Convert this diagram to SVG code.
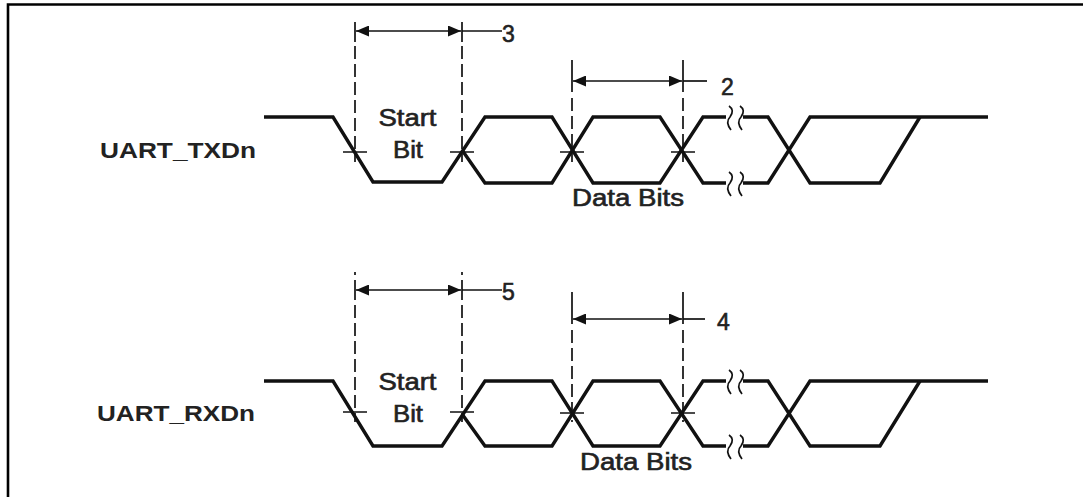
<svg xmlns="http://www.w3.org/2000/svg" width="1083" height="497" viewBox="0 0 1083 497">
<style>
.sig{fill:none;stroke:#111;stroke-width:3.4;stroke-linejoin:miter}
.dash{fill:none;stroke:#111;stroke-width:1.7;stroke-dasharray:13,5}
.thin{fill:none;stroke:#111;stroke-width:1.7}
.brk{fill:none;stroke:#111;stroke-width:1.7}
.lbl{font-family:"Liberation Sans",Arial,sans-serif;font-size:23px;fill:#222;stroke:#222;stroke-width:0.6}
.name{font-family:"Liberation Sans",Arial,sans-serif;font-size:22px;font-weight:bold;fill:#222}
</style>
<defs>
<marker id="ah" markerWidth="13" markerHeight="11" refX="13" refY="5.5" orient="auto-start-reverse" markerUnits="userSpaceOnUse">
<path d="M0,0 L13,5.5 L0,11 Z" fill="#111"/>
</marker>
<g id="brkS"><path d="M-1,-12 q6,4 1,11 q-5,5 1,13" class="brk"/></g>
</defs>
<rect x="0" y="0" width="1083" height="497" fill="#fff"/>
<path d="M8,497 V4.5 H1083" fill="none" stroke="#000" stroke-width="2.6"/>

<g id="txd">
<text class="name" x="100" y="158" textLength="156" lengthAdjust="spacingAndGlyphs">UART_TXDn</text>
<path class="sig" d="M264,117 H333 L373,182 H442 L485,117 H552 L593,183 H660 L703,117 H726 M743,117 H768 L810,183 H880 L920,117"/>
<path class="sig" d="M462,150 L485,183 H552 L593,117 H660 L703,183 H726 M743,183 H768 L810,117 H988"/>
<use href="#brkS" x="730" y="118"/>
<use href="#brkS" x="741" y="118"/>
<use href="#brkS" x="730" y="184"/>
<use href="#brkS" x="741" y="184"/>
<text class="lbl" x="407.5" y="126" text-anchor="middle" textLength="58" lengthAdjust="spacingAndGlyphs">Start</text>
<text class="lbl" x="408" y="158" text-anchor="middle" textLength="30" lengthAdjust="spacingAndGlyphs">Bit</text>
<text class="lbl" x="628" y="206" text-anchor="middle" textLength="112" lengthAdjust="spacingAndGlyphs">Data Bits</text>
</g>

<g id="rxd">
<text class="name" x="97" y="421" textLength="158" lengthAdjust="spacingAndGlyphs">UART_RXDn</text>
<path class="sig" d="M264,381 H333 L373,446 H442 L485,381 H552 L593,446 H660 L703,381 H726 M743,381 H768 L810,446 H880 L920,381"/>
<path class="sig" d="M462,414 L485,446 H552 L593,381 H660 L703,446 H726 M743,446 H768 L810,381 H988"/>
<use href="#brkS" x="730" y="382"/>
<use href="#brkS" x="741" y="382"/>
<use href="#brkS" x="730" y="447"/>
<use href="#brkS" x="741" y="447"/>
<text class="lbl" x="407.5" y="390" text-anchor="middle" textLength="58" lengthAdjust="spacingAndGlyphs">Start</text>
<text class="lbl" x="408" y="422" text-anchor="middle" textLength="30" lengthAdjust="spacingAndGlyphs">Bit</text>
<text class="lbl" x="636" y="470" text-anchor="middle" textLength="112" lengthAdjust="spacingAndGlyphs">Data Bits</text>
</g>

<g id="connectors">
<path class="thin" d="M355,22 V42 M462,22 V42"/>
<path class="dash" d="M355,46 V162 M462,46 V162"/>
<path class="thin" d="M343,152 H367 M450,152 H474"/>
<path class="thin" d="M356,31 H461" marker-start="url(#ah)" marker-end="url(#ah)"/>
<path class="thin" d="M462,31 H502"/>
<text class="lbl" x="502" y="42">3</text>
<path class="thin" d="M572,60 V92 M683,60 V92"/>
<path class="dash" d="M572,98 V162 M683,98 V162"/>
<path class="thin" d="M560,152 H584 M671,152 H695"/>
<path class="thin" d="M573,81 H682" marker-start="url(#ah)" marker-end="url(#ah)"/>
<path class="thin" d="M683,81 H707"/>
<text class="lbl" x="721" y="95">2</text>
<path class="thin" d="M355,272 V275 M462,272 V275 M355,280 V300 M462,280 V300"/>
<path class="dash" d="M355,305 V422 M462,305 V422"/>
<path class="thin" d="M343,412 H367 M450,412 H474"/>
<path class="thin" d="M356,290 H461" marker-start="url(#ah)" marker-end="url(#ah)"/>
<path class="thin" d="M462,290 H502"/>
<text class="lbl" x="502" y="300">5</text>
<path class="thin" d="M572,292 V324 M683,292 V324"/>
<path class="dash" d="M572,330 V422 M683,330 V422"/>
<path class="thin" d="M560,413 H584 M671,413 H695"/>
<path class="thin" d="M573,319 H682" marker-start="url(#ah)" marker-end="url(#ah)"/>
<path class="thin" d="M683,319 H705"/>
<text class="lbl" x="717" y="330">4</text>
</g>
</svg>
